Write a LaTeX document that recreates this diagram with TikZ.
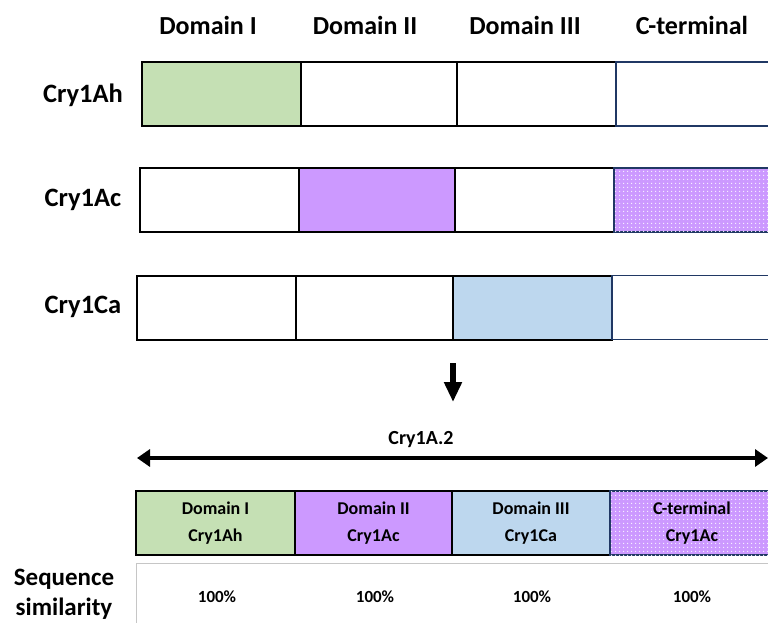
\documentclass[tikz,border=0pt]{standalone}
\usepackage{fontspec}
\setmainfont{Carlito}
\usetikzlibrary{patterns.meta,arrows.meta}
\definecolor{dgreen}{HTML}{C5E0B4}
\definecolor{dpurp}{HTML}{CC99FF}
\definecolor{dblue}{HTML}{BDD7EE}
\definecolor{navy}{HTML}{203864}
\begin{document}
\begin{tikzpicture}[x=1pt,y=-1pt,
  cell/.style={draw=black,line width=2pt,rectangle,inner sep=0pt,minimum height=64pt,font=\fontsize{18}{27}\selectfont\bfseries,align=center},
  cterm/.style={cell,draw=navy,line width=1.6pt,fill=dpurp,postaction={pattern={Dots[distance=4pt,radius=0.9pt]},pattern color=white!90!dpurp}},
  ctermw/.style={cell,draw=navy,line width=1.6pt},
  head/.style={font=\fontsize{26}{30}\selectfont\bfseries,inner sep=0pt},
  lab/.style={font=\fontsize{26.5}{30}\selectfont\bfseries,inner sep=0pt},
  pct/.style={font=\fontsize{17}{20}\selectfont\bfseries,inner sep=0pt}]
\useasboundingbox (0,0) rectangle (768,623);
% headers
\node[head] (h1) at (208,25) {Domain I};
\node[head] (h2) at (365,25) {Domain II};
\node[head] (h3) at (525,25) {Domain III};
\node[head] (h4) at (692,25) {C-terminal};
% row 1
\node[lab] (l1) at (83,95) {Cry1Ah};
\node[cell,fill=dgreen,minimum width=159pt] (a1) at (221.5,94) {};
\node[cell,minimum width=156pt] (a2) at (379,94) {};
\node[cell,minimum width=159pt] (a3) at (536.5,94) {};
\node[ctermw,minimum width=160pt] (a4) at (696,94) {};
% row 2
\node[lab] (l2) at (83,200) {Cry1Ac};
\node[cell,minimum width=159pt] (b1) at (219.5,200) {};
\node[cell,fill=dpurp,minimum width=156pt] (b2) at (377,200) {};
\node[cell,minimum width=159pt] (b3) at (534.5,200) {};
\node[cterm,minimum width=162pt] (b4) at (695,200) {};
% row 3
\node[lab] (l3) at (83,307) {Cry1Ca};
\node[cell,minimum width=159pt] (c1) at (216.5,307.5) {};
\node[cell,minimum width=157pt] (c2) at (374.5,307.5) {};
\node[cell,fill=dblue,minimum width=159pt] (c3) at (532.5,307.5) {};
\node[ctermw,minimum width=164pt] (c4) at (694,307.5) {};
% down arrow
\coordinate (d1) at (453,363);
\coordinate (d2) at (453,402);
\draw[line width=6.5pt,-{Triangle[width=17pt,length=20pt]}] (d1) -- (d2);
% double arrow
\node[font=\fontsize{20}{24}\selectfont\bfseries,inner sep=0pt] (t) at (421,440) {Cry1A.2};
\coordinate (e1) at (137,458);
\coordinate (e2) at (768,458);
\draw[line width=4.5pt,{Triangle[width=17pt,length=13pt]}-{Triangle[width=17pt,length=13pt]}] (e1) -- (e2);
% bottom boxes
\node[cell,fill=dgreen,minimum width=159pt] (f1) at (215.5,523) {Domain I\\Cry1Ah};
\node[cell,fill=dpurp,minimum width=157pt] (f2) at (373.5,523) {Domain II\\Cry1Ac};
\node[cell,fill=dblue,minimum width=158pt] (f3) at (531,523) {Domain III\\Cry1Ca};
\node[cterm,minimum width=164pt] (f4) at (692,523) {C-terminal\\Cry1Ac};
% similarity
\coordinate (g0) at (136,626);
\coordinate (g1) at (136,563);
\coordinate (g2) at (770,563);
\draw[gray!45,line width=1pt] (g0) -- (g1) -- (g2);
\node[lab,align=center,font=\fontsize{25}{30}\selectfont\bfseries] (s) at (64,594) {Sequence\\similarity};
\node[pct] (p1) at (217,597) {100\%};
\node[pct] (p2) at (375,597) {100\%};
\node[pct] (p3) at (532,597) {100\%};
\node[pct] (p4) at (692,597) {100\%};
\end{tikzpicture}
\end{document}
